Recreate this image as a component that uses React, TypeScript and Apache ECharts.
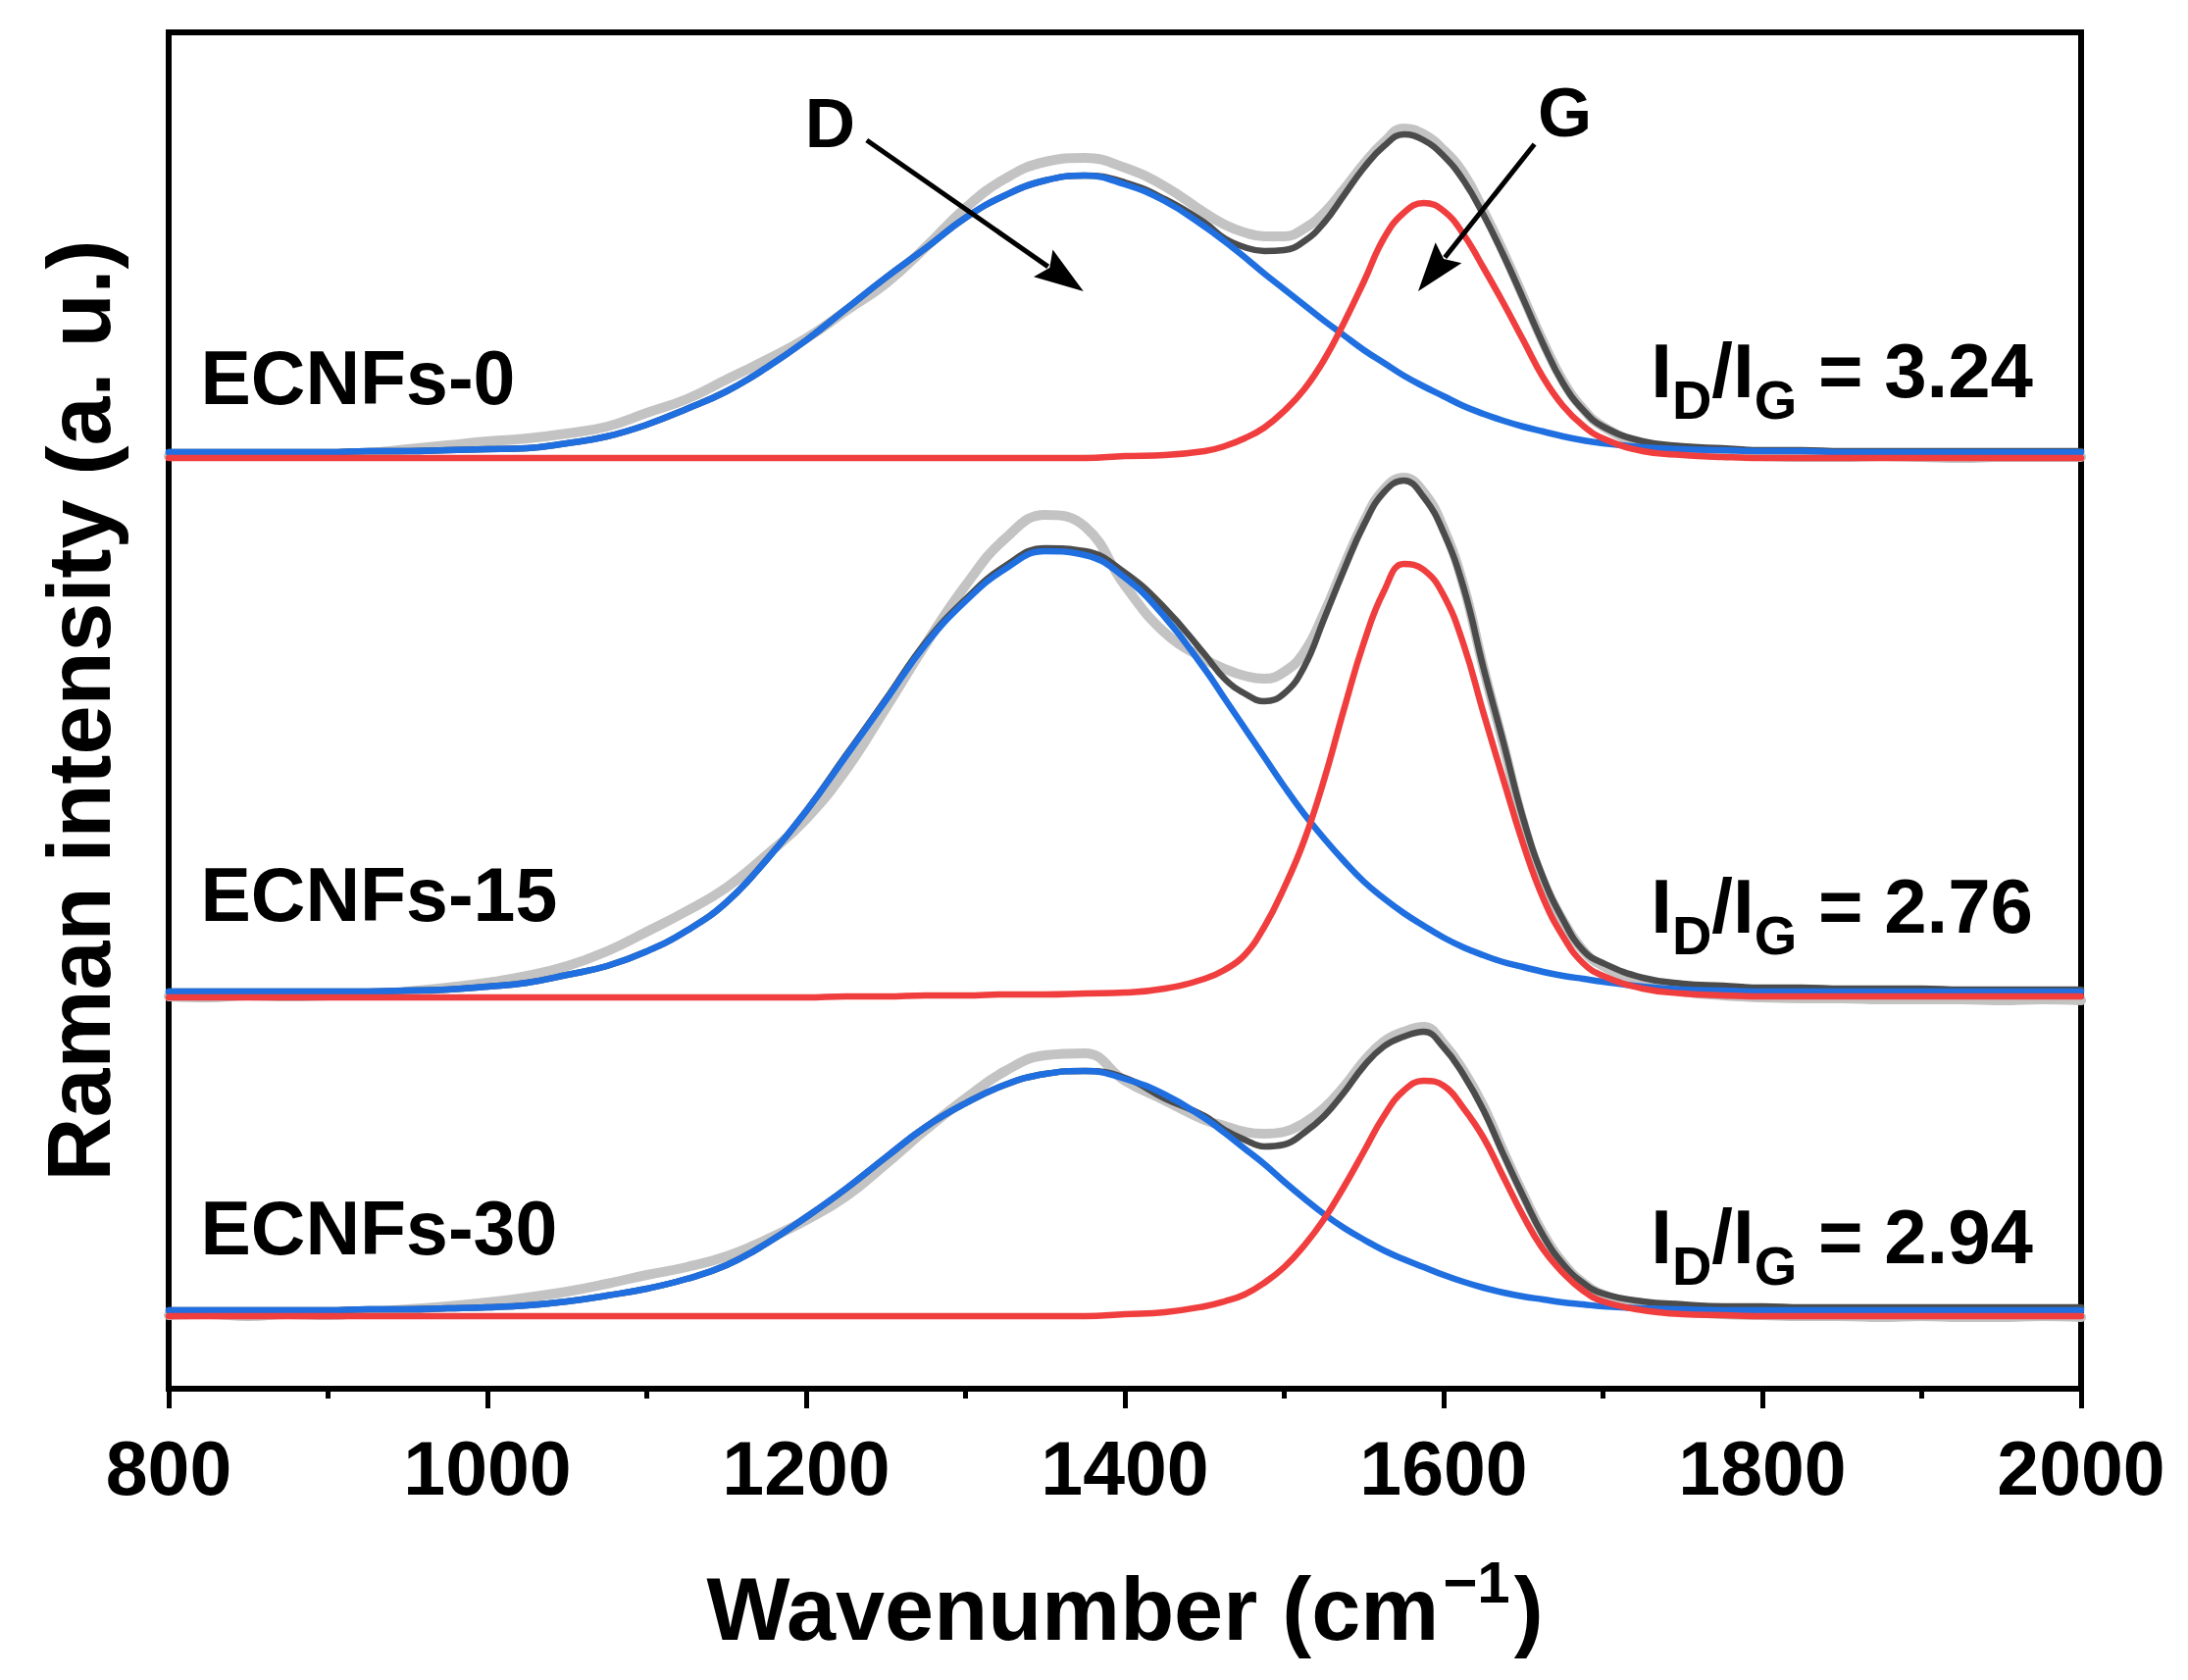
import React, { useEffect, useRef } from 'react';
import * as echarts from 'echarts';

// Raman spectra. Heights are above each trace's own baseline.
// Finer sampling around the G band so that peaks and dips are not clipped by the smoothing.
const wavenumbers = [
  800, 825, 850, 875, 900, 925, 950, 975, 1000, 1025, 1050, 1075, 1100, 1125, 1150, 1175, 1200,
  1225, 1250, 1275, 1300, 1325, 1350, 1375, 1400, 1425, 1450,
  1462.5, 1475, 1487.5, 1500, 1512.5, 1525, 1537.5, 1550, 1562.5, 1575, 1587.5, 1600, 1612.5,
  1625, 1637.5, 1650, 1662.5, 1675, 1687.5, 1700,
  1725, 1750, 1775, 1800, 1825, 1850, 1875, 1900, 1925, 1950, 1975, 2000,
];

const samples = ['ECNFs-0', 'ECNFs-15', 'ECNFs-30'];
const ratios = ['3.24', '2.76', '2.94'];
const offsets = [949, 399, 74];

// ECNFs-0
const raw0 = [
  2, 3, 2, 3, 3, 5, 9, 13, 17, 20, 25, 32, 46, 60, 80, 100, 122, 150, 178, 215, 255, 285, 302, 306, 296, 277, 250,
  238, 230, 226, 226, 234, 250, 274, 300, 322, 336, 330, 314, 290, 252, 210, 164, 118, 78, 50, 32,
  14, 7, 4, 2, 1, 1, 2, 1, 0, 1, 1, 1,
];
const fit0 = [
  6, 6, 6, 6, 6, 7, 7, 8, 9, 10, 15, 22, 34, 50, 68, 92, 120, 152, 184, 214, 245, 268, 283, 288, 281, 264, 240,
  224, 215, 211, 212, 221, 240, 268, 296, 318, 330, 324, 308, 283, 248, 207, 162, 116, 76, 49, 32,
  17, 12, 10, 8, 8, 7, 7, 7, 7, 7, 7, 7,
];
const dBand0 = [
  6, 6, 6, 6, 6, 7, 7, 8, 9, 10, 15, 22, 34, 50, 68, 92, 120, 152, 184, 214, 245, 268, 283, 288, 279, 262, 236,
  221, 205, 188, 172, 156, 140, 125, 110, 97, 84, 73, 63, 53, 45, 38, 32, 27, 22, 18, 15,
  11, 9, 8, 7, 7, 6, 6, 6, 6, 6, 6, 6,
];
const gBand0 = [
  0, 0, 0, 0, 0, 0, 0, 0, 0, 0, 0, 0, 0, 0, 0, 0, 0, 0, 0, 0, 0, 0, 0, 0, 2, 3, 7,
  12, 20, 31, 48, 70, 100, 138, 180, 224, 250, 260, 252, 228, 194, 158, 120, 82, 53, 33, 20,
  7, 3, 1, 0, 0, 0, 0, 0, 0, 0, 0, 0,
];

// ECNFs-15
const raw15 = [
  1, 0, 2, 1, 2, 3, 6, 10, 15, 22, 32, 47, 67, 88, 112, 145, 182, 232, 295, 360, 420, 468, 492, 480, 420, 372, 345,
  335, 328, 325, 332, 352, 392, 440, 485, 518, 530, 515, 478, 420, 336, 258, 178, 118, 78, 48, 32,
  14, 6, 2, 0, -1, -1, -2, -2, -2, -3, -2, -3,
];
const fit15 = [
  6, 6, 6, 6, 6, 6, 7, 8, 11, 15, 23, 32, 47, 68, 97, 140, 190, 247, 304, 362, 406, 440, 458, 455, 433, 397, 350,
  325, 310, 302, 310, 337, 386, 436, 482, 515, 527, 510, 474, 418, 336, 260, 182, 122, 79, 48, 35,
  20, 14, 12, 10, 10, 9, 9, 9, 8, 8, 8, 8,
];
const dBand15 = [
  6, 6, 6, 6, 6, 6, 7, 8, 11, 15, 23, 32, 47, 68, 97, 140, 190, 246, 303, 360, 404, 437, 455, 451, 428, 388, 335,
  305, 275, 245, 215, 187, 162, 139, 118, 101, 86, 73, 61, 51, 43, 36, 31, 26, 22, 19, 16,
  11, 8, 7, 6, 6, 6, 6, 6, 6, 6, 6, 6,
];
const gBand15 = [
  0, 0, 0, 0, 0, 0, 0, 0, 0, 0, 0, 0, 0, 0, 0, 0, 0, 1, 1, 2, 2, 3, 3, 4, 5, 9, 19,
  28, 43, 72, 112, 160, 222, 294, 362, 414, 442, 436, 410, 360, 290, 222, 156, 101, 62, 35, 22,
  9, 4, 2, 1, 1, 1, 1, 1, 1, 1, 1, 1,
];

// ECNFs-30
const raw30 = [
  1, 2, 0, 2, 1, 4, 7, 10, 14, 19, 25, 33, 42, 50, 61, 78, 98, 122, 155, 190, 222, 250, 266, 268, 240, 220, 200,
  194, 188, 186, 188, 197, 212, 234, 260, 280, 290, 295, 278, 250, 214, 168, 124, 84, 54, 34, 22,
  10, 5, 2, 1, 0, 0, -1, 0, -1, -1, 0, -1,
];
const fit30 = [
  6, 6, 6, 6, 6, 7, 7, 8, 9, 11, 15, 21, 28, 38, 52, 74, 101, 130, 162, 193, 217, 236, 247, 250, 243, 222, 204,
  190, 180, 173, 175, 187, 204, 228, 255, 275, 285, 290, 274, 246, 210, 165, 122, 82, 53, 34, 23,
  15, 12, 10, 10, 9, 9, 9, 9, 9, 9, 9, 9,
];
const dBand30 = [
  6, 6, 6, 6, 6, 7, 7, 8, 9, 11, 15, 21, 28, 38, 52, 74, 101, 130, 162, 193, 217, 236, 247, 250, 242, 226, 202,
  187, 171, 155, 137, 120, 104, 90, 78, 67, 58, 50, 42, 35, 29, 24, 20, 17, 14, 12, 10,
  8, 7, 6, 6, 6, 6, 6, 6, 6, 6, 6, 6,
];
const gBand30 = [
  0, 0, 0, 0, 0, 0, 0, 0, 0, 0, 0, 0, 0, 0, 0, 0, 0, 0, 0, 0, 0, 0, 0, 0, 2, 4, 10,
  15, 22, 34, 50, 72, 99, 132, 168, 204, 230, 240, 235, 212, 182, 142, 102, 68, 44, 26, 15,
  6, 2, 1, 0, 0, 0, 0, 0, 0, 0, 0, 0,
];

const traces = [
  { raw: raw0, fit: fit0, d: dBand0, g: gBand0 },
  { raw: raw15, fit: fit15, d: dBand15, g: gBand15 },
  { raw: raw30, fit: fit30, d: dBand30, g: gBand30 },
];

const FONT = '"Liberation Sans", Arial, Helvetica, sans-serif';

const App: React.FC = () => {
  const chartRef = useRef<HTMLDivElement>(null);

  useEffect(() => {
    const chart = echarts.init(chartRef.current!, null, { renderer: 'svg' });

    const pairs = (vals: number[], off: number) => wavenumbers.map((w, i) => [w, vals[i] + off]);
    const curve = (name: string, vals: number[], off: number, color: string, width: number, z: number) => ({
      type: 'line',
      name,
      data: pairs(vals, off),
      symbol: 'none',
      showSymbol: false,
      smooth: 0.45,
      silent: true,
      z,
      lineStyle: { color, width, join: 'round', cap: 'round' },
    });

    const series: any[] = [];
    traces.forEach((t, k) => {
      const off = offsets[k];
      series.push(curve(samples[k] + ' raw', t.raw, off, '#c3c3c3', 10, 2));
      series.push(curve(samples[k] + ' fit', t.fit, off, '#4b4b4b', 6.5, 3));
      series.push(curve(samples[k] + ' D', t.d, off, '#1f6fe0', 6.5, 4));
      series.push(curve(samples[k] + ' G', t.g, off, '#f03e3e', 6.5, 5));
    });

    chart.setOption({
      animation: false,
      grid: { left: 172, right: 109, top: 33, bottom: 297, show: true, borderColor: '#000', borderWidth: 6 },
      xAxis: {
        type: 'value',
        min: 800,
        max: 2000,
        interval: 200,
        axisLine: { show: true, lineStyle: { color: '#000', width: 6 } },
        axisTick: { show: true, length: 20, lineStyle: { color: '#000', width: 5 } },
        minorTick: { show: true, splitNumber: 2, length: 10, lineStyle: { color: '#000', width: 5 } },
        splitLine: { show: false },
        axisLabel: {
          fontSize: 77,
          fontWeight: 'bold',
          fontFamily: FONT,
          color: '#000',
          margin: 42,
          formatter: (v: number) => String(v),
        },
      },
      yAxis: {
        type: 'value',
        min: 0,
        max: 1383,
        axisLine: { show: false },
        axisTick: { show: false },
        axisLabel: { show: false },
        splitLine: { show: false },
      },
      series,
    });

    const ctx = document.createElement('canvas').getContext('2d')!;
    const measure = (text: string, size: number) => {
      ctx.font = `bold ${size}px ${FONT}`;
      return ctx.measureText(text).width;
    };
    const px = (w: number, v: number) => chart.convertToPixel({ gridIndex: 0 }, [w, v]) as number[];
    const txt = (text: string, x: number, y: number, size: number, align = 'left', extra: any = {}) => ({
      type: 'text',
      x,
      y,
      z: 20,
      silent: true,
      ...extra,
      style: {
        text,
        font: `bold ${size}px ${FONT}`,
        fill: '#000',
        textAlign: align,
        textVerticalAlign: 'middle',
        align,
        verticalAlign: 'middle',
      },
    });
    const arrow = (from: number[], to: number[]) => {
      const [sx, sy] = px(from[0], from[1]);
      const [tx, ty] = px(to[0], to[1]);
      const len = Math.hypot(tx - sx, ty - sy);
      const ux = (tx - sx) / len;
      const uy = (ty - sy) / len;
      const bx = tx - ux * 50;
      const by = ty - uy * 50;
      return [
        { type: 'line', z: 20, silent: true, shape: { x1: sx, y1: sy, x2: bx + ux * 6, y2: by + uy * 6 }, style: { stroke: '#000', lineWidth: 5 } },
        {
          type: 'polygon', z: 20, silent: true,
          shape: { points: [[tx, ty], [bx - uy * 17, by + ux * 17], [bx + ux * 8, by + uy * 8], [bx + uy * 17, by - ux * 17]] },
          style: { fill: '#000' },
        },
      ];
    };

    const graphic: any[] = [];
    const sampleAt = [[820, 1031], [820, 504], [820, 164]];
    const ratioAt = [[1730, 1038], [1730, 492], [1730, 155]];
    samples.forEach((s, k) => {
      const [x, y] = px(sampleAt[k][0], sampleAt[k][1]);
      graphic.push(txt(s, x, y, 77));
      const [rx, ry] = px(ratioAt[k][0], ratioAt[k][1]);
      const parts: [string, boolean][] = [['I', false], ['D', true], ['/I', false], ['G', true], [' = ' + ratios[k], false]];
      let cx = rx;
      parts.forEach(([p, sub]) => {
        const size = sub ? 56 : 78;
        graphic.push(txt(p, cx, sub ? ry + 29 : ry, size));
        cx += measure(p, size);
      });
    });

    const [dx, dy] = px(1215, 1291);
    graphic.push(txt('D', dx, dy, 71, 'center'));
    const [gx, gy] = px(1676, 1302);
    graphic.push(txt('G', gx, gy, 71, 'center'));
    graphic.push(...arrow([1238, 1273], [1374, 1119]));
    graphic.push(...arrow([1657, 1269], [1584, 1119]));

    // x axis title with superscript
    const main = 'Wavenumber (cm';
    const sup = '\u22121';
    const close = ')';
    const wMain = measure(main, 90);
    const wSup = measure(sup, 60);
    const wClose = measure(close, 90);
    const total = wMain + 4 + wSup + 4 + wClose;
    const [c0] = px(800, 0);
    const [c1] = px(2000, 0);
    let tx0 = (c0 + c1) / 2 - total / 2;
    graphic.push(txt(main, tx0, 1641, 90));
    tx0 += wMain + 4;
    graphic.push(txt(sup, tx0, 1613, 60));
    tx0 += wSup + 4;
    graphic.push(txt(close, tx0, 1641, 90));

    // y axis title
    const [, yTop] = px(800, 1383);
    const [, yBot] = px(800, 0);
    graphic.push(txt('Raman intensity (a. u.)', 81, (yTop + yBot) / 2, 90, 'center', { rotation: Math.PI / 2 }));

    chart.setOption({ graphic });

    return () => {
      chart.dispose();
    };
  }, []);

  return <div ref={chartRef} style={{ position: 'fixed', left: 0, top: 0, width: 2231, height: 1713, background: '#fff' }} />;
};

export default App;
